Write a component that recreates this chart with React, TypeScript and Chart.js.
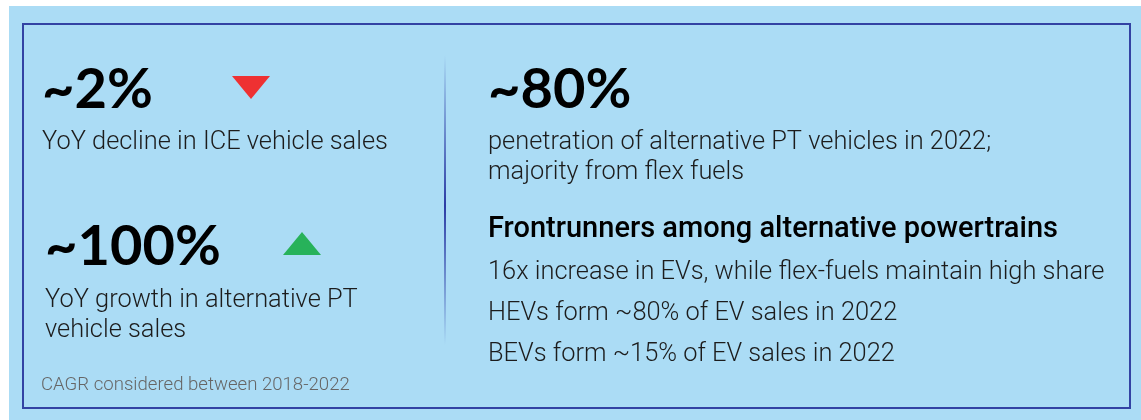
import React, { useEffect, useRef } from "react";
import { Chart, registerables } from "chart.js";

Chart.register(...registerables);

// ---------- content ----------
const headlineValues = ["~2%", "~100%", "~80%"];
const headlineCaptions = [
  ["YoY decline in ICE vehicle sales"],
  ["YoY growth in alternative PT", "vehicle sales"],
  ["penetration of alternative PT vehicles in 2022;", "majority from flex fuels"],
];
const trendLabels = ["ICE vehicle sales", "Alternative PT vehicle sales"];
const trendDirections = [-1, 1]; // -1 decline, +1 growth
const footnote = "CAGR considered between 2018-2022";
const frontrunnerTitle = "Frontrunners among alternative powertrains";
const frontrunnerPoints = [
  "16x increase in EVs, while flex-fuels maintain high share",
  "HEVs form ~80% of EV sales in 2022",
  "BEVs form ~15% of EV sales in 2022",
];

// ---------- layout & style ----------
const W = 1141;
const H = 420;
const BG = "#abdcf5";
const BORDER = "#3343a3";
const headlinePos = [
  { x: 42, y: 108 },
  { x: 45, y: 265 },
  { x: 488, y: 108 },
];
const captionPos = [
  { x: 42, y: 149, lh: 30 },
  { x: 45, y: 307, lh: 30 },
  { x: 488, y: 149, lh: 30 },
];
const trianglePos = [
  { x: 251, y: 87.5 },
  { x: 302, y: 243.5 },
];
const frontrunnerY = [279, 320, 361];
const TRI_W = 38;
const TRI_H = 23;
const trendColors = { down: "#ee3132", up: "#27b25a" };
const FONT_BIG = "bold 56px Lato";
const FONT_BODY = "300 25.4px Roboto";
const FONT_TITLE = "500 29px Roboto";
const FONT_NOTE = "300 18.6px Roboto";

function makeTriangle(dir: number, color: string): HTMLCanvasElement {
  const c = document.createElement("canvas");
  c.width = TRI_W;
  c.height = TRI_H;
  const g = c.getContext("2d")!;
  g.fillStyle = color;
  g.beginPath();
  if (dir < 0) {
    g.moveTo(0, 0);
    g.lineTo(TRI_W, 0);
    g.lineTo(TRI_W / 2, TRI_H);
  } else {
    g.moveTo(TRI_W / 2, 0);
    g.lineTo(TRI_W, TRI_H);
    g.lineTo(0, TRI_H);
  }
  g.closePath();
  g.fill();
  return c;
}

const infographicPlugin = {
  id: "infographic",
  beforeDatasetsDraw(chart: any) {
    const ctx: CanvasRenderingContext2D = chart.ctx;
    ctx.save();
    // background panel
    ctx.fillStyle = BG;
    ctx.fillRect(9, 6, W - 9, H - 6);
    // inner border
    ctx.strokeStyle = BORDER;
    ctx.lineWidth = 2;
    ctx.strokeRect(23, 24, 1107, 384);
    // divider
    const grad = ctx.createLinearGradient(0, 55, 0, 345);
    grad.addColorStop(0, "rgba(44,60,165,0)");
    grad.addColorStop(0.52, "rgba(44,60,165,1)");
    grad.addColorStop(1, "rgba(44,60,165,0)");
    ctx.fillStyle = grad;
    ctx.fillRect(444, 55, 2, 290);

    ctx.textBaseline = "alphabetic";
    ctx.textAlign = "left";
    // headlines
    ctx.fillStyle = "#000";
    ctx.font = FONT_BIG;
    headlineValues.forEach((t, i) => ctx.fillText(t, headlinePos[i].x, headlinePos[i].y));
    // captions
    ctx.fillStyle = "#1c1c1c";
    ctx.font = FONT_BODY;
    headlineCaptions.forEach((lines, i) =>
      lines.forEach((l, j) => ctx.fillText(l, captionPos[i].x, captionPos[i].y + j * captionPos[i].lh))
    );
    // footnote
    ctx.fillStyle = "#666";
    ctx.font = FONT_NOTE;
    ctx.fillText(footnote, 41, 390);
    // frontrunners
    ctx.fillStyle = "#000";
    ctx.font = FONT_TITLE;
    ctx.fillText(frontrunnerTitle, 488, 237);
    ctx.fillStyle = "#1c1c1c";
    ctx.font = FONT_BODY;
    frontrunnerPoints.forEach((t, i) => ctx.fillText(t, 488, frontrunnerY[i]));
    ctx.restore();
  },
};

export default function App() {
  const ref = useRef<HTMLCanvasElement>(null);
  useEffect(() => {
    document.body.style.margin = "0";
    const canvas = ref.current!;
    const datasets = trendDirections.map((dir, i) => ({
      label: trendLabels[i],
      data: [{ x: trianglePos[i].x, y: trianglePos[i].y }],
      pointStyle: makeTriangle(dir, dir < 0 ? trendColors.down : trendColors.up),
      pointRadius: 12,
      pointHoverRadius: 12,
    }));
    const chart = new Chart(canvas, {
      type: "scatter",
      data: { datasets },
      options: {
        animation: false,
        responsive: false,
        maintainAspectRatio: false,
        devicePixelRatio: 1,
        layout: { padding: 0, autoPadding: false },
        events: [],
        plugins: { legend: { display: false }, tooltip: { enabled: false }, title: { display: false } },
        scales: {
          x: { type: "linear", min: 0, max: W, display: false },
          y: { type: "linear", min: 0, max: H, reverse: true, display: false },
        },
      },
      plugins: [infographicPlugin],
    } as any);
    return () => chart.destroy();
  }, []);
  return (
    <div style={{ width: W, height: H }}>
      <canvas ref={ref} width={W} height={H} style={{ display: "block" }} />
    </div>
  );
}
